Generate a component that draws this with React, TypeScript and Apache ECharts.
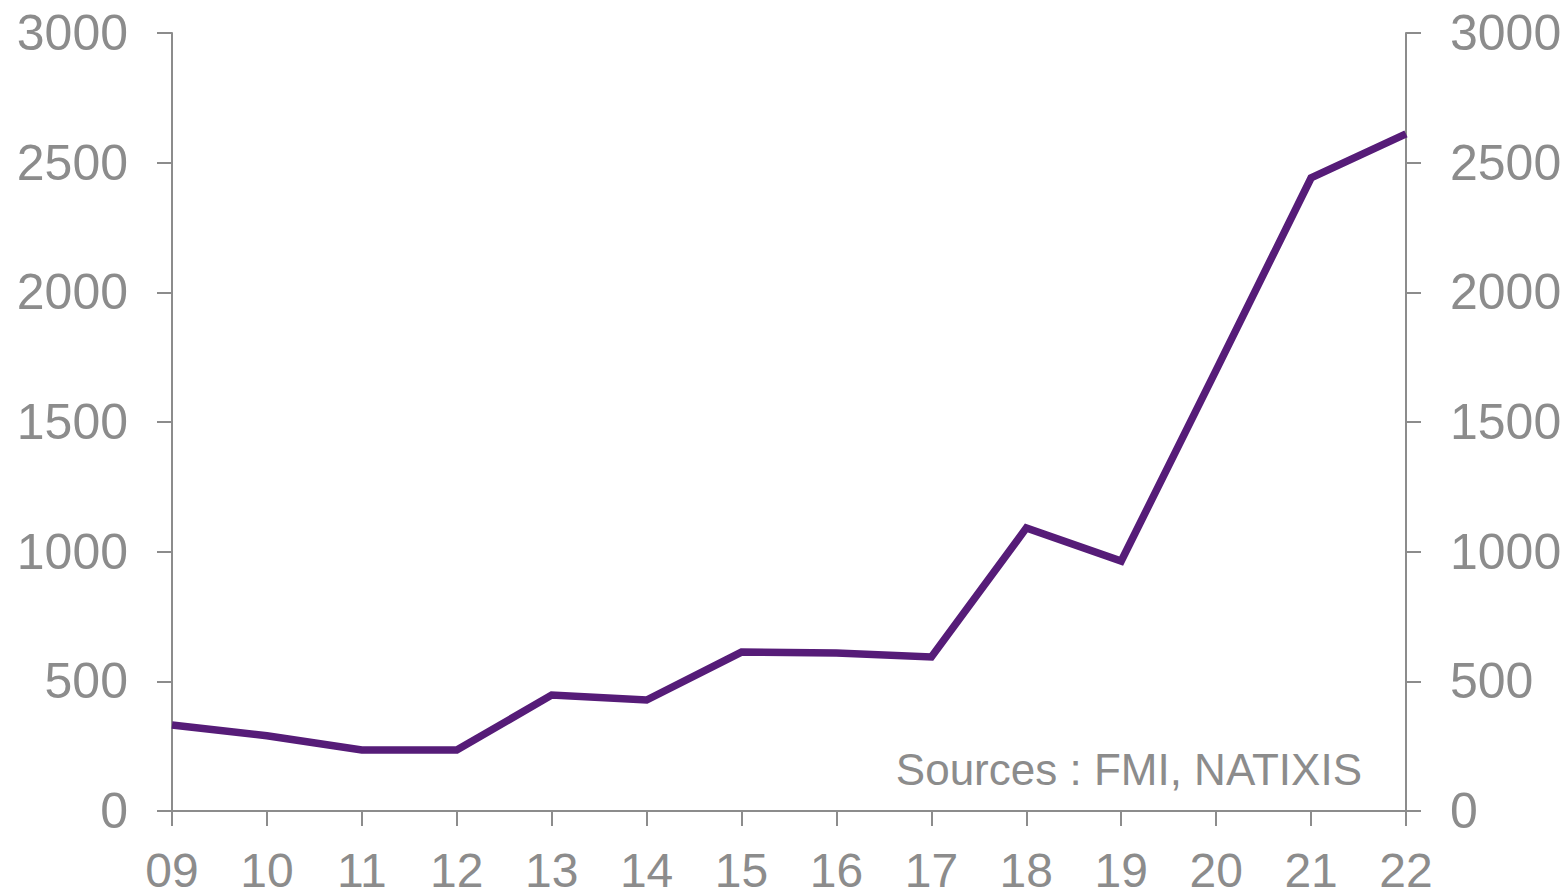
import React, { useEffect, useRef } from "react";
import * as echarts from "echarts";

const categories = ["09", "10", "11", "12", "13", "14", "15", "16", "17", "18", "19", "20", "21", "22"];
const values = [332, 290, 235, 235, 447, 428, 613, 609, 594, 1091, 964, 1700, 2441, 2611];
const sourceText = "Sources : FMI, NATIXIS";

const AXIS = "#8c8c8c";
const LABEL = "#8c8c8c";
const FONT = "Liberation Sans";

export default function App() {
  const ref = useRef<HTMLDivElement>(null);
  useEffect(() => {
    if (!ref.current) return;
    const chart = echarts.init(ref.current, null, { renderer: "svg" });
    const yAxisCommon = {
      type: "value",
      min: 0,
      max: 3000,
      interval: 500,
      splitLine: { show: false },
      axisLine: { show: true, lineStyle: { color: AXIS, width: 2 } },
      axisTick: { show: true, length: 15, lineStyle: { color: AXIS, width: 2 } },
      axisLabel: {
        color: LABEL,
        fontSize: 50,
        fontFamily: FONT,
        margin: 44,
        formatter: (v: number) => String(v),
      },
    };
    chart.setOption({
      animation: false,
      grid: { left: 172, right: 162, top: 33, bottom: 84, containLabel: false, outerBoundsMode: "none" },
      xAxis: {
        type: "category",
        data: categories,
        boundaryGap: false,
        axisLine: { lineStyle: { color: AXIS, width: 2 } },
        axisTick: { show: true, length: 15, alignWithLabel: true, lineStyle: { color: AXIS, width: 2 } },
        axisLabel: { color: LABEL, fontSize: 48, lineHeight: 38, fontFamily: FONT, margin: 40 },
      },
      yAxis: [
        { ...yAxisCommon, position: "left" },
        { ...yAxisCommon, position: "right" },
      ],
      series: [
        {
          type: "line",
          data: values,
          yAxisIndex: 0,
          symbol: "none",
          lineStyle: { color: "#561c78", width: 7.5, join: "miter" },
        },
      ],
      graphic: [
        {
          type: "text",
          right: 206,
          top: 747,
          style: { text: sourceText, fill: LABEL, fontSize: 44, fontFamily: FONT },
        },
      ],
    });
    return () => chart.dispose();
  }, []);
  return (
    <div
      ref={ref}
      style={{ position: "absolute", left: 0, top: 0, width: 1568, height: 895 }}
    />
  );
}
